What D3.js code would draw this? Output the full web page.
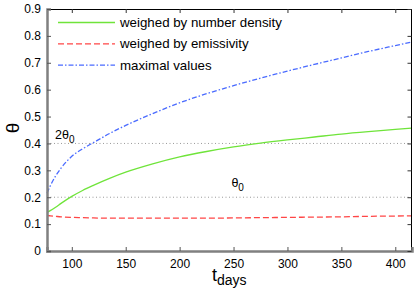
<!DOCTYPE html>
<html><head><meta charset="utf-8">
<script src="https://cdn.jsdelivr.net/npm/d3@7"></script>
<style>body{margin:0;background:#fff}svg{display:block;font-family:"Liberation Sans",Arial,sans-serif}</style>
</head><body><div id="chart"></div>
<script>
const tDays = [77, 80, 85, 90, 100, 110, 120, 135, 150, 175, 200, 225, 250, 275, 300, 325, 350, 375, 400, 415];
const numberDensity = [0.143, 0.150, 0.163, 0.177, 0.203, 0.225, 0.244, 0.270, 0.293, 0.324, 0.350, 0.370, 0.387, 0.401, 0.413, 0.424, 0.435, 0.444, 0.452, 0.457];
const emissivity = [0.132, 0.131, 0.129, 0.127, 0.125, 0.124, 0.123, 0.122, 0.122, 0.122, 0.122, 0.122, 0.123, 0.124, 0.125, 0.126, 0.127, 0.129, 0.130, 0.131];
const maximal = [0.215, 0.242, 0.279, 0.308, 0.352, 0.380, 0.403, 0.437, 0.467, 0.511, 0.551, 0.585, 0.615, 0.643, 0.669, 0.694, 0.718, 0.742, 0.764, 0.777];
const seriesNames = ["weighed by number density", "weighed by emissivity", "maximal values"];
const xTicks = [100, 150, 200, 250, 300, 350, 400];
const yTicks = [0, 0.1, 0.2, 0.3, 0.4, 0.5, 0.6, 0.7, 0.8, 0.9];
const refLines = [{v: 0.4, label: "2θ", t: 77}, {v: 0.2, label: "θ", t: 248}];

const W = 415, H = 290;
const m = {l: 47, r: 3, t: 9, b: 39};
const svg = d3.select("#chart").append("svg").attr("width", W).attr("height", H);
const x = d3.scaleLinear().domain([77, 415.5]).range([m.l, W - m.r]);
const y = d3.scaleLinear().domain([0, 0.9]).range([H - m.b, m.t]);

// reference dotted lines
svg.selectAll(".ref").data(refLines).enter().append("line")
  .attr("x1", x(77)).attr("x2", x(415.5))
  .attr("y1", d => y(d.v)).attr("y2", d => y(d.v))
  .attr("stroke", "#999").attr("stroke-width", 1).attr("stroke-dasharray", "1,2.5");

// annotations
const ann = svg.selectAll(".ann").data(refLines).enter().append("text")
  .attr("x", d => x(d.t) + (d.t === 77 ? 8 : 0))
  .attr("y", d => y(d.v) - (d.t === 77 ? 4 : 10))
  .attr("font-size", 12.5).attr("fill", "#000");
ann.append("tspan").text(d => d.label);
ann.append("tspan").attr("dy", 4).attr("font-size", 10).text("0");

const series = [
  {vals: numberDensity, color: "#6fe43a", dash: null},
  {vals: emissivity, color: "#ff4646", dash: "6,3"},
  {vals: maximal, color: "#4a6bff", dash: "5,2,1.5,2"}
];
const line = d3.line().curve(d3.curveMonotoneX).x(d => x(d[0])).y(d => y(d[1]));
series.forEach(s => {
  svg.append("path").datum(tDays.map((t, i) => [t, s.vals[i]]))
    .attr("d", line).attr("fill", "none").attr("stroke", s.color)
    .attr("stroke-width", 1.3).attr("stroke-dasharray", s.dash);
});

// frame: top & right black thin
svg.append("line").attr("x1", m.l).attr("x2", W - m.r).attr("y1", m.t + 0.5).attr("y2", m.t + 0.5).attr("stroke", "#000").attr("stroke-width", 1);
svg.append("line").attr("x1", W - m.r - 0.5).attr("x2", W - m.r - 0.5).attr("y1", m.t).attr("y2", H - m.b).attr("stroke", "#000").attr("stroke-width", 1);

// axes
const xAxis = d3.axisBottom(x).tickValues(xTicks).tickSize(-4).tickPadding(8).tickFormat(d3.format("d"));
const gx = svg.append("g").attr("transform", `translate(0,${H - m.b})`).call(xAxis);
const yAxis = d3.axisLeft(y).tickValues(yTicks).tickSize(-4).tickPadding(6).tickFormat(d => d === 0 ? "0" : d3.format(".1f")(d));
const gy = svg.append("g").attr("transform", `translate(${m.l},0)`).call(yAxis);
[gx, gy].forEach(g => {
  g.select(".domain").attr("stroke", "#808080").attr("stroke-width", 2.5);
  g.selectAll(".tick line").attr("stroke", "#555");
  g.selectAll(".tick text").attr("font-size", 12).attr("fill", "#000").attr("font-family", "Liberation Sans, Arial, sans-serif");
});
// top & right inward ticks
const gt = svg.append("g").attr("transform", `translate(0,${m.t})`).call(d3.axisTop(x).tickValues(xTicks).tickSize(-4).tickFormat(""));
const gr = svg.append("g").attr("transform", `translate(${W - m.r - 0.5},0)`).call(d3.axisRight(y).tickValues(yTicks).tickSize(-4).tickFormat(""));
[gt, gr].forEach(g => { g.select(".domain").remove(); g.selectAll(".tick line").attr("stroke", "#333"); });

// legend
const leg = svg.append("g");
seriesNames.forEach((n, i) => {
  const yy = 22.5 + i * 21.3;
  leg.append("line").attr("x1", 58).attr("x2", 115).attr("y1", yy).attr("y2", yy)
    .attr("stroke", series[i].color).attr("stroke-width", 1.3).attr("stroke-dasharray", series[i].dash);
  leg.append("text").attr("x", 120).attr("y", yy + 4.5).attr("font-size", 13.3).attr("fill", "#000").text(n);
});

// axis labels
svg.append("text").attr("transform", `translate(19,128) rotate(-90)`).attr("text-anchor", "middle")
  .attr("font-size", 19).attr("fill", "#000").text("θ");
const xl = svg.append("text").attr("x", 212).attr("y", 281).attr("fill", "#000");
xl.append("tspan").attr("font-size", 18).text("t");
xl.append("tspan").attr("font-size", 14).attr("dy", 4).text("days");
</script></body></html>
